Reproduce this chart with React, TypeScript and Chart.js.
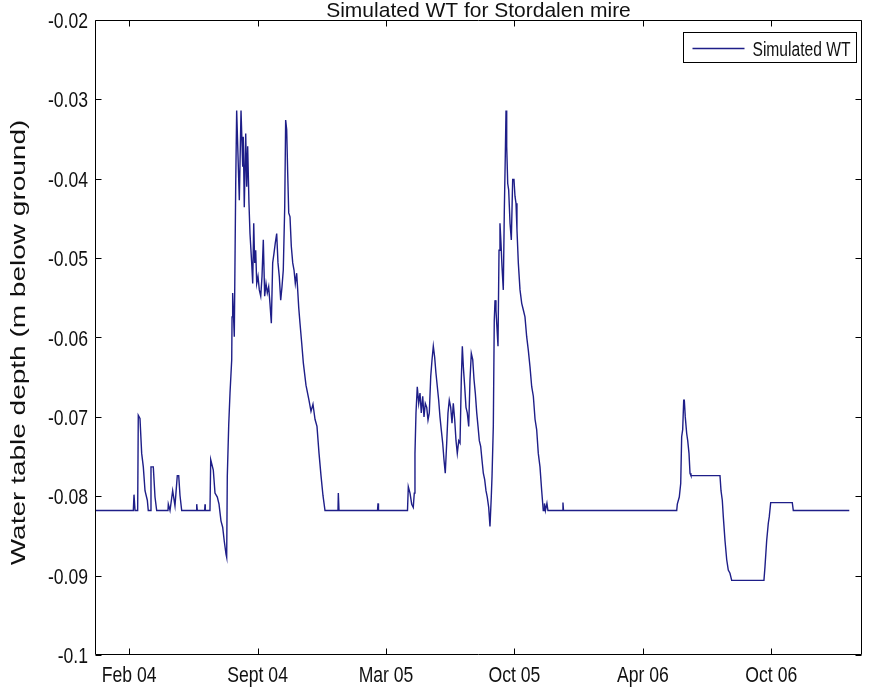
import React, { useEffect, useRef } from "react";
import { Chart, registerables } from "chart.js";

Chart.register(...registerables);

const FONT = '"Liberation Sans", Arial, Helvetica, sans-serif';
const TEXT_COLOR = "#111";
const LINE_COLOR = "#1e1e88";

const titleText = "Simulated WT for Stordalen mire";
const yAxisTitle = "Water table depth (m below ground)";
const legendLabel = "Simulated WT";

// x axis: days counted from the "Feb 04" tick position
const xMin = -49.3;
const xMax = 1079.5;
const xTickValues = [1, 190, 379, 568, 757, 946];
const xTickLabels = ["Feb 04", "Sept 04", "Mar 05", "Oct 05", "Apr 06", "Oct 06"];

const yMin = -0.1;
const yMax = -0.02;
const yTickValues = [-0.1, -0.09, -0.08, -0.07, -0.06, -0.05, -0.04, -0.03, -0.02];
const yTickLabels = ["-0.1", "-0.09", "-0.08", "-0.07", "-0.06", "-0.05", "-0.04", "-0.03", "-0.02"];

const days = [
  -49.3, 7.1, 8.1, 9.6, 13.5, 14.4, 16.9, 19.4, 21.8, 24.3, 27.7, 29.1, 32.7, 33.1, 36.5, 39.0, 41.5,
  58.1, 58.6, 61.1, 65.0, 68.4, 71.8, 73.9, 75.8, 78.3, 99.8, 100.4, 101.3, 112.1, 112.6, 113.0,
  119.9, 121.0, 124.8, 127.3, 130.7, 133.2, 136.1, 138.6, 141.0, 143.5, 144.5, 145.4, 147.5, 149.4,
  151.9, 152.4, 153.3, 155.7, 157.8, 159.2, 163.1, 165.6, 168.1, 168.9, 170.4, 172.5, 174.0, 175.4,
  177.3, 178.8, 181.3, 182.8, 184.3, 185.7, 187.2, 188.7, 190.6, 192.5, 194.6, 196.5, 198.4, 200.4,
  202.4, 204.3, 206.3, 208.2, 210.2, 212.2, 214.1, 216.0, 218.1, 220.0, 221.9, 224.0, 225.9, 227.8,
  229.9, 231.3, 232.8, 234.3, 235.8, 237.7, 239.6, 241.7, 243.6, 245.5, 247.5, 249.0, 250.5, 252.4,
  254.9, 257.3, 261.2, 265.6, 268.6, 271.5, 274.5, 277.4, 280.4, 283.3, 286.2, 289.2, 308.3, 308.8,
  309.8, 366.5, 367.2, 367.9, 410.6, 411.8, 414.3, 416.8, 419.1, 420.6, 421.6, 423.1, 425.0, 427.1,
  429.0, 430.9, 433.0, 434.9, 436.8, 438.9, 440.8, 442.7, 444.8, 446.7, 448.6, 450.6, 452.5, 454.5,
  456.5, 458.4, 460.3, 462.4, 464.3, 466.2, 468.3, 470.2, 472.1, 474.2, 476.1, 478.0, 480.1, 482.0,
  483.9, 486.0, 487.9, 489.8, 491.3, 492.8, 494.8, 496.7, 498.6, 500.7, 502.6, 504.5, 506.6, 508.5,
  510.4, 512.5, 514.4, 516.3, 518.3, 520.2, 522.2, 524.2, 526.1, 528.0, 530.1, 532.0, 533.9, 535.0,
  536.9, 538.3, 539.4, 540.8, 541.9, 543.8, 545.3, 546.7, 548.2, 549.7, 551.6, 553.1, 554.5, 555.6,
  556.6, 558.1, 559.5, 561.5, 563.4, 565.4, 567.3, 568.8, 570.3, 571.7, 573.7, 576.2, 578.7, 581.0,
  583.5, 586.0, 588.4, 590.9, 593.4, 595.8, 598.3, 600.7, 603.1, 605.6, 608.1, 610.4, 611.8, 612.2,
  613.6, 615.8, 617.3, 638.7, 639.4, 640.2, 806.8, 807.7, 810.6, 812.7, 814.1, 815.6, 817.1, 818.0,
  819.4, 821.5, 823.0, 824.9, 826.4, 827.8, 870.5, 872.0, 873.9, 875.4, 877.9, 880.4, 882.7, 885.2,
  887.7, 935.2, 936.7, 939.2, 941.6, 943.0, 945.1, 976.9, 978.4, 1060.8,
];

const simulatedWT = [
  -0.0818, -0.0818, -0.0798, -0.0818, -0.0818, -0.0698, -0.0702, -0.0746, -0.0763, -0.0793, -0.0805, -0.0818, -0.0818, -0.0763, -0.0763, -0.0801, -0.0818,
  -0.0818, -0.0810, -0.0818, -0.0793, -0.0812, -0.0774, -0.0774, -0.0799, -0.0818, -0.0818, -0.0810, -0.0818, -0.0818, -0.0810, -0.0818,
  -0.0818, -0.0754, -0.0767, -0.0796, -0.0801, -0.0810, -0.0831, -0.0839, -0.0857, -0.0873, -0.0877, -0.0775, -0.0710, -0.0670,
  -0.0628, -0.0574, -0.0544, -0.0599, -0.0406, -0.0314, -0.0427, -0.0314, -0.0385, -0.0347, -0.0436, -0.0343, -0.0410, -0.0359,
  -0.0431, -0.0469, -0.0506, -0.0532, -0.0456, -0.0506, -0.0490, -0.0532, -0.0523, -0.0540, -0.0548, -0.0523, -0.0477, -0.0548,
  -0.0532, -0.0544, -0.0536, -0.0557, -0.0582, -0.0506, -0.0494, -0.0481, -0.0469, -0.0506, -0.0523, -0.0553, -0.0536, -0.0515,
  -0.0436, -0.0326, -0.0338, -0.0393, -0.0443, -0.0448, -0.0485, -0.0506, -0.0515, -0.0532, -0.0519, -0.0540, -0.0562, -0.0582,
  -0.0607, -0.0632, -0.0660, -0.0679, -0.0693, -0.0684, -0.0703, -0.0712, -0.0746, -0.0774, -0.0799, -0.0818, -0.0818, -0.0796,
  -0.0818, -0.0818, -0.0809, -0.0818, -0.0818, -0.0788, -0.0796, -0.0810, -0.0814, -0.0796, -0.0746, -0.0695, -0.0662, -0.0683,
  -0.0670, -0.0695, -0.0674, -0.0700, -0.0683, -0.0688, -0.0704, -0.0695, -0.0649, -0.0628, -0.0611, -0.0625, -0.0645, -0.0662,
  -0.0679, -0.0700, -0.0716, -0.0733, -0.0754, -0.0771, -0.0733, -0.0695, -0.0679, -0.0688, -0.0708, -0.0683, -0.0704, -0.0730,
  -0.0746, -0.0730, -0.0733, -0.0653, -0.0611, -0.0637, -0.0662, -0.0688, -0.0695, -0.0712, -0.0653, -0.0620, -0.0628, -0.0653,
  -0.0670, -0.0695, -0.0712, -0.0730, -0.0737, -0.0754, -0.0771, -0.0779, -0.0793, -0.0801, -0.0814, -0.0838, -0.0801, -0.0775,
  -0.0712, -0.0579, -0.0553, -0.0565, -0.0582, -0.0611, -0.0490, -0.0456, -0.0481, -0.0511, -0.0540, -0.0440, -0.0373, -0.0314,
  -0.0359, -0.0406, -0.0414, -0.0456, -0.0477, -0.0401, -0.0401, -0.0422, -0.0431, -0.0464, -0.0506, -0.0540, -0.0557, -0.0565,
  -0.0574, -0.0599, -0.0616, -0.0637, -0.0662, -0.0674, -0.0703, -0.0716, -0.0746, -0.0763, -0.0793, -0.0818, -0.0818, -0.0809,
  -0.0818, -0.0809, -0.0818, -0.0818, -0.0808, -0.0818, -0.0818, -0.0810, -0.0801, -0.0784, -0.0725, -0.0716, -0.0679, -0.0679,
  -0.0700, -0.0721, -0.0730, -0.0746, -0.0771, -0.0774, -0.0774, -0.0793, -0.0805, -0.0826, -0.0856, -0.0880, -0.0893, -0.0897,
  -0.0906, -0.0906, -0.0889, -0.0856, -0.0834, -0.0826, -0.0808, -0.0808, -0.0818, -0.0818,
];

function drawText(
  ctx: CanvasRenderingContext2D,
  text: string,
  x: number,
  y: number,
  size: number,
  kx: number,
  align: CanvasTextAlign,
  baseline: CanvasTextBaseline,
) {
  ctx.save();
  ctx.translate(x, y);
  ctx.scale(kx, 1);
  ctx.font = `${size}px ${FONT}`;
  ctx.textAlign = align;
  ctx.textBaseline = baseline;
  ctx.fillStyle = TEXT_COLOR;
  ctx.fillText(text, 0, 0);
  ctx.restore();
}

const matlabFrame = {
  id: "matlabFrame",
  afterDatasetsDraw(chart: any) {
    const { ctx, chartArea: a, scales } = chart;
    ctx.save();
    ctx.strokeStyle = "#000";
    ctx.lineWidth = 1;
    const L = Math.round(a.left) + 0.5;
    const R = Math.round(a.right) - 0.5;
    const T = Math.round(a.top) + 0.5;
    const B = Math.round(a.bottom) - 0.5;
    ctx.beginPath();
    ctx.rect(L, T, R - L, B - T);
    const tl = 6;
    xTickValues.forEach((v) => {
      const px = Math.round(scales.x.getPixelForValue(v)) + 0.5;
      ctx.moveTo(px, B);
      ctx.lineTo(px, B - tl);
      ctx.moveTo(px, T);
      ctx.lineTo(px, T + tl);
    });
    yTickValues.forEach((v) => {
      const py = Math.round(scales.y.getPixelForValue(v)) + 0.5;
      ctx.moveTo(L, py);
      ctx.lineTo(L + tl, py);
      ctx.moveTo(R, py);
      ctx.lineTo(R - tl, py);
    });
    ctx.stroke();

    // tick labels
    xTickValues.forEach((v, i) => {
      const px = scales.x.getPixelForValue(v);
      drawText(ctx, xTickLabels[i], px, a.bottom + 27, 22, 0.8, "center", "alphabetic");
    });
    yTickValues.forEach((v, i) => {
      const py = scales.y.getPixelForValue(v);
      drawText(ctx, yTickLabels[i], a.left - 7, py + 8, 22, 0.8, "right", "alphabetic");
    });

    // title
    drawText(ctx, titleText, (a.left + a.right) / 2, a.top - 3, 21, 1.0, "center", "alphabetic");

    // y axis title (rotated)
    ctx.save();
    ctx.translate(25, (a.top + a.bottom) / 2 + 5);
    ctx.rotate(-Math.PI / 2);
    ctx.scale(1, 0.72);
    ctx.font = `28px ${FONT}`;
    ctx.textAlign = "center";
    ctx.textBaseline = "alphabetic";
    ctx.fillStyle = TEXT_COLOR;
    ctx.fillText(yAxisTitle, 0, 0);
    ctx.restore();

    // legend
    const boxLeft = 683.5;
    const boxRight = Math.round(a.right) - 5.5;
    const boxTop = Math.round(a.top) + 12.5;
    const boxH = 30;
    ctx.fillStyle = "#fff";
    ctx.fillRect(boxLeft, boxTop, boxRight - boxLeft, boxH);
    ctx.strokeStyle = "#000";
    ctx.lineWidth = 1;
    ctx.strokeRect(boxLeft, boxTop, boxRight - boxLeft, boxH);
    const midY = Math.round(boxTop + boxH / 2) + 0.5;
    ctx.strokeStyle = LINE_COLOR;
    ctx.lineWidth = 1.3;
    ctx.beginPath();
    ctx.moveTo(boxLeft + 9, midY);
    ctx.lineTo(boxLeft + 61, midY);
    ctx.stroke();
    drawText(ctx, legendLabel, boxLeft + 69, midY + 7.5, 20, 0.78, "left", "alphabetic");
    ctx.restore();
  },
};

export default function App() {
  const canvasRef = useRef<HTMLCanvasElement | null>(null);

  useEffect(() => {
    const canvas = canvasRef.current;
    if (!canvas) return;
    const points = days.map((d, i) => ({ x: d, y: simulatedWT[i] }));
    const chart = new Chart(canvas, {
      type: "line",
      data: {
        datasets: [
          {
            label: legendLabel,
            data: points,
            borderColor: LINE_COLOR,
            borderWidth: 1.4,
            pointRadius: 0,
            tension: 0,
            fill: false,
          },
        ],
      },
      options: {
        animation: false,
        responsive: false,
        devicePixelRatio: 1,
        layout: { padding: { left: 0, right: 9, top: 20, bottom: 0 } },
        plugins: {
          legend: { display: false },
          title: { display: false },
          tooltip: { enabled: false },
        },
        scales: {
          x: {
            type: "linear",
            min: xMin,
            max: xMax,
            grid: { display: false, drawTicks: false },
            border: { display: false },
            afterBuildTicks: (s: any) => {
              s.ticks = xTickValues.map((v) => ({ value: v }));
            },
            afterFit: (s: any) => {
              s.height = 32;
            },
            ticks: { display: false, autoSkip: false },
          },
          y: {
            type: "linear",
            min: yMin,
            max: yMax,
            grid: { display: false, drawTicks: false },
            border: { display: false },
            afterBuildTicks: (s: any) => {
              s.ticks = yTickValues.map((v) => ({ value: v }));
            },
            afterFit: (s: any) => {
              s.width = 95;
            },
            ticks: { display: false, autoSkip: false },
            title: { display: false },
          },
        },
      },
      plugins: [matlabFrame],
    });
    return () => chart.destroy();
  }, []);

  return (
    <div style={{ position: "absolute", left: 0, top: 0, width: 871, height: 687, background: "#fff" }}>
      <canvas ref={canvasRef} width={871} height={687} style={{ display: "block" }} />
    </div>
  );
}
